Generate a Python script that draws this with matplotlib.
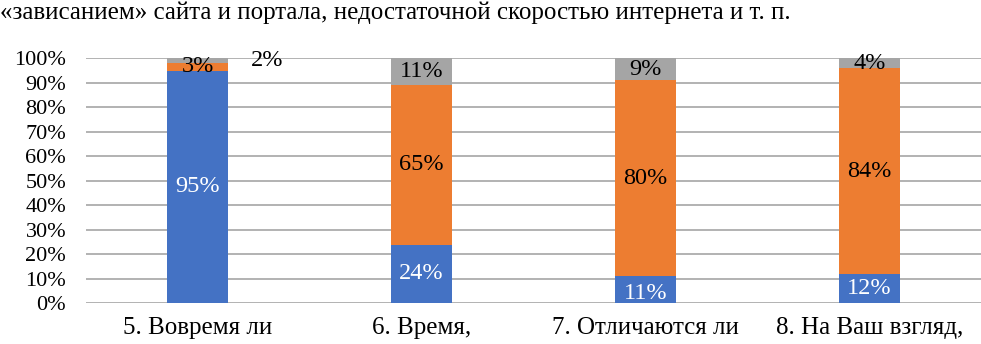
import matplotlib
matplotlib.use("Agg")
import matplotlib.pyplot as plt
import numpy as np

plt.rcParams['font.family'] = ['Liberation Serif', 'DejaVu Serif']

categories = ["5. Вовремя ли", "6. Время,", "7. Отличаются ли", "8. На Ваш взгляд,"]
blue_vals = [95, 24, 11, 12]
orange_vals = [3, 65, 80, 84]
gray_vals = [2, 11, 9, 4]
yticks = [0, 10, 20, 30, 40, 50, 60, 70, 80, 90, 100]
header = "«зависанием» сайта и портала, недостаточной скоростью интернета и т. п."

BLUE = "#4472C4"
ORANGE = "#ED7D31"
GRAY = "#A5A5A5"

fig = plt.figure(figsize=(9.81, 3.44), dpi=100)
ax = fig.add_axes([0.0872, 0.1183, 0.9133, 0.7122])

x = np.arange(len(categories))
w = 0.272
b = np.array(blue_vals, dtype=float)
o = np.array(orange_vals, dtype=float)
g = np.array(gray_vals, dtype=float)

ax.bar(x, b, w, color=BLUE, zorder=2)
ax.bar(x, o, w, bottom=b, color=ORANGE, zorder=2)
ax.bar(x, g, w, bottom=b + o, color=GRAY, zorder=2)

ax.set_xlim(-0.5, len(categories) - 0.5)
ax.set_ylim(0, 100)
ax.set_yticks(yticks)
ax.set_yticklabels([f"{t}%" for t in yticks], fontsize=16)
ax.set_xticks(x)
ax.set_xticklabels(categories, fontsize=18)
ax.tick_params(axis='both', length=0)
ax.tick_params(axis='y', pad=14)
ax.tick_params(axis='x', pad=10)
for s in ax.spines.values():
    s.set_visible(False)
ax.yaxis.grid(True, color="#A6A6A6", linewidth=1.2, zorder=0)
ax.set_axisbelow(True)

fs = 17.5
for i in range(len(categories)):
    yb = b[i] / 2 - (1.5 if i == 2 else 0)
    ax.text(x[i], yb, f"{blue_vals[i]}%", ha='center', va='center',
            color='white', fontsize=fs, zorder=3, clip_on=True)
    ax.text(x[i], b[i] + o[i] / 2, f"{orange_vals[i]}%", ha='center', va='center',
            color='black', fontsize=fs, zorder=3)
    if i == 0:
        ax.text(x[i] + 0.31, b[i] + o[i] + g[i] / 2, f"{gray_vals[i]}%", ha='center',
                va='center', color='black', fontsize=fs, zorder=3)
    else:
        ax.text(x[i], b[i] + o[i] + g[i] / 2, f"{gray_vals[i]}%", ha='center', va='center',
                color='black', fontsize=fs, zorder=3)

fig.text(0.0, 1 - 13 / 344, header, ha='left', va='center', fontsize=18)

fig.savefig("out.png", dpi=100)
